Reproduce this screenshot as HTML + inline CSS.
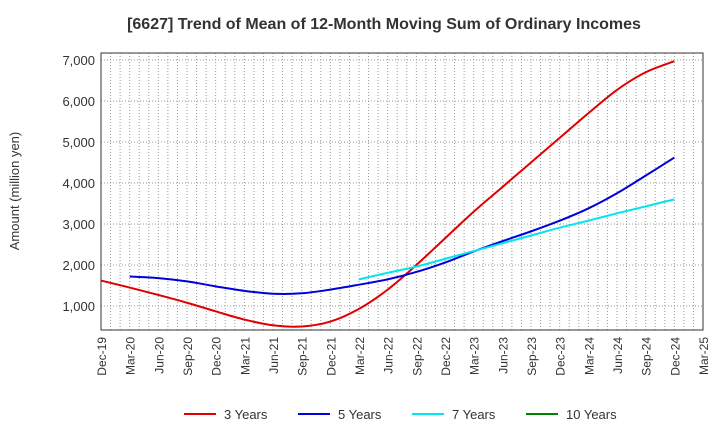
<!DOCTYPE html>
<html><head><meta charset="utf-8"><style>
body{margin:0;background:#fff;font-family:"Liberation Sans",sans-serif}
</style></head><body>
<svg id="c" width="720" height="440" xmlns="http://www.w3.org/2000/svg">
<text x="384" y="29" text-anchor="middle" font-size="16" font-weight="bold" fill="#333">[6627]  Trend of Mean of 12-Month Moving Sum of Ordinary Incomes</text>
<text transform="translate(19,191) rotate(-90)" text-anchor="middle" font-size="13" fill="#333">Amount (million yen)</text>
<g id="grid"></g><g id="axes"></g><g id="series"></g><g id="legend"></g>
</svg>
<script>
const xLabels=["Dec-19","Mar-20","Jun-20","Sep-20","Dec-20","Mar-21","Jun-21","Sep-21","Dec-21","Mar-22","Jun-22","Sep-22","Dec-22","Mar-23","Jun-23","Sep-23","Dec-23","Mar-24","Jun-24","Sep-24","Dec-24","Mar-25"];
const yTicks=[1000,2000,3000,4000,5000,6000,7000];
const s3=[1620,1450,1270,1080,870,670,530,500,620,930,1400,2000,2650,3300,3900,4500,5100,5700,6270,6700,6970];
const s5=[1720,1680,1600,1480,1370,1300,1310,1400,1520,1650,1830,2060,2330,2580,2820,3080,3380,3750,4180,4620];
const s7=[1650,1810,1960,2150,2340,2530,2720,2910,3080,3260,3430,3600];
const s10=[];
const L=101,R=703,T=53,B=330,ymin=415,ymax=7170;
const ns="http://www.w3.org/2000/svg";
const X=i=>L+(R-L)*i/(xLabels.length-1);
const Y=v=>B-(v-ymin)/(ymax-ymin)*(B-T);
function mk(t,a,p){const e=document.createElementNS(ns,t);for(const k in a)e.setAttribute(k,a[k]);p.appendChild(e);return e;}
const g=document.getElementById('grid'),ax=document.getElementById('axes'),se=document.getElementById('series'),lg=document.getElementById('legend');
for(let m=1;m<(xLabels.length-1)*3;m++){const x=L+(R-L)*m/((xLabels.length-1)*3);
const l=mk('line',{x1:x,x2:x,y1:T,y2:B,stroke:'#999','stroke-dasharray':'1,2','stroke-width':1},g);
}
yTicks.forEach(v=>{const l=mk('line',{x1:L,x2:R,y1:Y(v),y2:Y(v),stroke:'#999','stroke-dasharray':'1,2'},g);

const t=mk('text',{x:L-6,y:Y(v)+5,'text-anchor':'end','font-size':13,fill:'#333'},ax);t.textContent=v.toLocaleString('en-US');
});
xLabels.forEach((s,i)=>{const t=mk('text',{transform:`translate(${X(i)+5},337) rotate(-90)`,'text-anchor':'end','font-size':12,fill:'#333'},ax);t.textContent=s;
});
const fr=mk('rect',{x:L,y:T,width:R-L,height:B-T,fill:'none',stroke:'#333'},ax);

function path(d,off){let p='';const pts=d.map((v,i)=>[X(i+off),Y(v)]);
p='M'+pts[0];for(let i=0;i<pts.length-1;i++){const p0=pts[i-1]||pts[i],p1=pts[i],p2=pts[i+1],p3=pts[i+2]||p2;
p+=` C${p1[0]+(p2[0]-p0[0])/6},${p1[1]+(p2[1]-p0[1])/6} ${p2[0]-(p3[0]-p1[0])/6},${p2[1]-(p3[1]-p1[1])/6} ${p2[0]},${p2[1]}`;}return p;}
[[s3,0,'#e00000','series-3-years'],[s5,1,'#0000dd','series-5-years'],[s7,9,'#00e5ee','series-7-years']].forEach(([d,o,c,n])=>{
if(!d.length)return;const p=mk('path',{d:path(d,o),fill:'none',stroke:c,'stroke-width':2},se);
});
[['3 Years','#e00000',184],['5 Years','#0000dd',298],['7 Years','#00e5ee',412],['10 Years','#008000',526]].forEach(([n,c,x])=>{
const l=mk('line',{x1:x,x2:x+32,y1:414,y2:414,stroke:c,'stroke-width':2},lg);

const t=mk('text',{x:x+40,y:419,'font-size':13,fill:'#333'},lg);t.textContent=n;
});
</script>
</body></html>
